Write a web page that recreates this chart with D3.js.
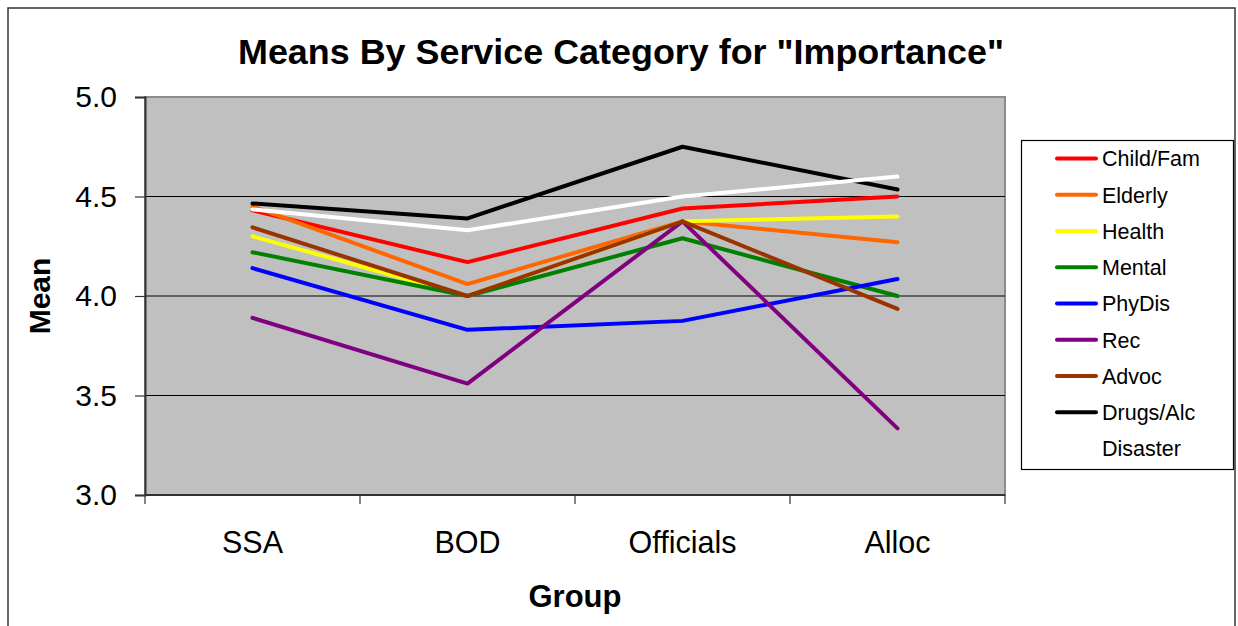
<!DOCTYPE html>
<html>
<head>
<meta charset="utf-8">
<script src="https://cdn.jsdelivr.net/npm/d3@7"></script>
<style>
  html, body { margin: 0; padding: 0; background: #fff; }
  svg { display: block; font-family: "Liberation Sans", Arial, sans-serif; }
</style>
</head>
<body>
<svg id="chart" width="1238" height="626"></svg>
<script>
// Groups along the x axis
const groups = ["SSA", "BOD", "Officials", "Alloc"];

// Mean importance per service category, one value per group
const childFam  = [4.43, 4.17, 4.44, 4.50];
const elderly   = [4.45, 4.06, 4.375, 4.27];
const health    = [4.30, 4.00, 4.375, 4.40];
const mental    = [4.22, 4.00, 4.29, 4.00];
const phyDis    = [4.14, 3.83, 3.875, 4.085];
const rec       = [3.89, 3.56, 4.375, 3.335];
const advoc     = [4.345, 4.00, 4.375, 3.935];
const drugsAlc  = [4.465, 4.39, 4.75, 4.535];
const disaster  = [4.435, 4.33, 4.50, 4.60];

const seriesNames = ["Child/Fam", "Elderly", "Health", "Mental", "PhyDis", "Rec", "Advoc", "Drugs/Alc", "Disaster"];
const seriesColors = ["#ff0000", "#ff6600", "#ffff00", "#008000", "#0000ff", "#800080", "#993300", "#000000", "#ffffff"];
const seriesValues = [childFam, elderly, health, mental, phyDis, rec, advoc, drugsAlc, disaster];

const yTicks = [3.0, 3.5, 4.0, 4.5, 5.0];

const series = seriesNames.map((name, i) => ({ name, color: seriesColors[i], values: seriesValues[i] }));

const svg = d3.select("#chart");

// Outer chart frame
svg.append("rect")
  .attr("x", 8).attr("y", 8).attr("width", 1227).attr("height", 630)
  .attr("fill", "#fff").attr("stroke", "#333").attr("stroke-width", 1.5);

const plot = { left: 145, right: 1005, top: 97, bottom: 495 };

const x = d3.scaleBand().domain(groups).range([plot.left, plot.right]).padding(0);
const y = d3.scaleLinear().domain([3, 5]).range([plot.bottom, plot.top]);
const xc = g => x(g) + x.bandwidth() / 2;

// Plot background
svg.append("rect")
  .attr("x", plot.left).attr("y", plot.top)
  .attr("width", plot.right - plot.left).attr("height", plot.bottom - plot.top)
  .attr("fill", "#c0c0c0").attr("stroke", "#8c8c8c").attr("stroke-width", 2);

// Horizontal gridlines
svg.append("g").selectAll("line")
  .data(yTicks.filter(t => t > 3 && t < 5))
  .join("line")
  .attr("x1", plot.left).attr("x2", plot.right)
  .attr("y1", d => y(d)).attr("y2", d => y(d))
  .attr("stroke", "#000").attr("stroke-width", 1.2);

// Y axis
const yAxis = svg.append("g")
  .attr("transform", `translate(${plot.left},0)`)
  .call(d3.axisLeft(y).tickValues(yTicks).tickFormat(d3.format(".1f")).tickSize(10).tickPadding(18));
yAxis.select(".domain").attr("stroke", "#333").attr("stroke-width", 2);
yAxis.selectAll(".tick line").attr("stroke", "#333").attr("stroke-width", 1.2);
yAxis.selectAll(".tick text")
  .attr("font-size", 30).attr("fill", "#000")
  .attr("font-family", "'Liberation Sans', Arial, sans-serif");

// X axis: baseline, ticks at group boundaries, centred group labels
const xAxis = svg.append("g");
xAxis.append("line")
  .attr("x1", plot.left).attr("x2", plot.right)
  .attr("y1", plot.bottom).attr("y2", plot.bottom)
  .attr("stroke", "#333").attr("stroke-width", 2);
const edges = groups.map(g => x(g)).concat([x(groups[groups.length - 1]) + x.bandwidth()]);
xAxis.selectAll("line.tick")
  .data(edges)
  .join("line")
  .attr("class", "tick")
  .attr("x1", d => d).attr("x2", d => d)
  .attr("y1", plot.bottom).attr("y2", plot.bottom + 9)
  .attr("stroke", "#333").attr("stroke-width", 1.2);
xAxis.selectAll("text")
  .data(groups)
  .join("text")
  .attr("x", d => xc(d)).attr("y", 553)
  .attr("text-anchor", "middle")
  .attr("font-size", 30.5)
  .text(d => d);

// Series lines
const line = d3.line().x((d, i) => xc(groups[i])).y(d => y(d));
svg.append("g").selectAll("path")
  .data(series)
  .join("path")
  .attr("d", d => line(d.values))
  .attr("fill", "none")
  .attr("stroke", d => d.color)
  .attr("stroke-width", 4)
  .attr("stroke-linejoin", "round")
  .attr("stroke-linecap", "round");

// Title and axis titles
svg.append("text")
  .attr("x", 621).attr("y", 64)
  .attr("text-anchor", "middle")
  .attr("font-size", 35).attr("font-weight", "bold")
  .attr("textLength", 766).attr("lengthAdjust", "spacingAndGlyphs")
  .text('Means By Service Category for "Importance"');

svg.append("text")
  .attr("x", 575).attr("y", 607)
  .attr("text-anchor", "middle")
  .attr("font-size", 31).attr("font-weight", "bold")
  .text("Group");

svg.append("text")
  .attr("transform", "translate(50,296) rotate(-90)")
  .attr("text-anchor", "middle")
  .attr("font-size", 30).attr("font-weight", "bold")
  .text("Mean");

// Legend
const legend = svg.append("g");
legend.append("rect")
  .attr("x", 1021.5).attr("y", 140.5).attr("width", 212).attr("height", 329)
  .attr("fill", "#fff").attr("stroke", "#000").attr("stroke-width", 1.2);
const rows = legend.selectAll("g.item")
  .data(series)
  .join("g")
  .attr("class", "item")
  .attr("transform", (d, i) => `translate(0,${158.5 + i * 36.25})`);
rows.append("line")
  .attr("x1", 1057).attr("x2", 1096)
  .attr("y1", 0).attr("y2", 0)
  .attr("stroke", d => d.color).attr("stroke-width", 4)
  .attr("stroke-linecap", "round");
rows.append("text")
  .attr("x", 1102).attr("y", 0).attr("dy", "0.36em")
  .attr("font-size", 21.5)
  .text(d => d.name);
</script>
</body>
</html>
